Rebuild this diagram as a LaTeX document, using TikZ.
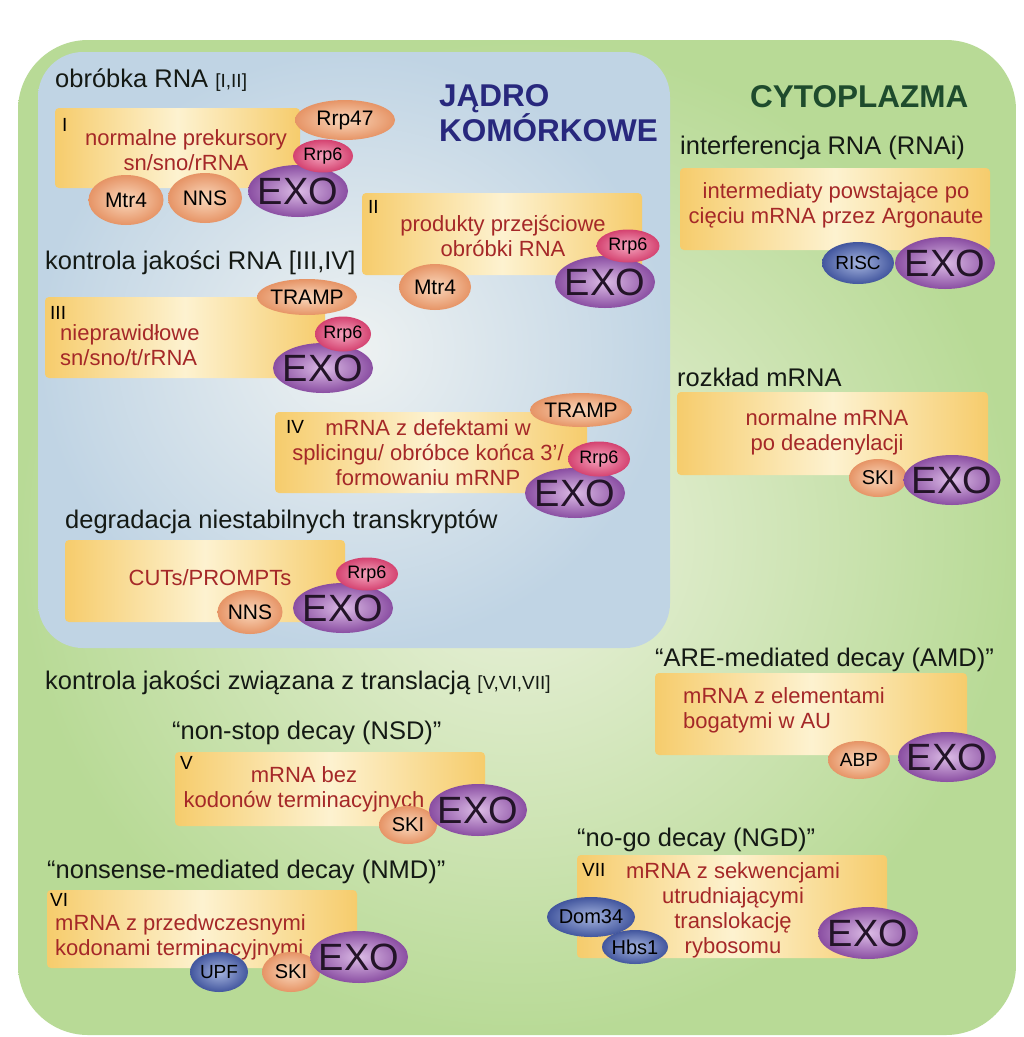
\documentclass[tikz,border=0pt]{standalone}
\usepackage{fontspec}
\setmainfont{Liberation Sans}
\usetikzlibrary{shapes.geometric}
\definecolor{gOut}{RGB}{184,218,150}
\definecolor{gIn}{RGB}{236,242,222}
\definecolor{bOut}{RGB}{192,212,228}
\definecolor{bIn}{RGB}{238,242,242}
\definecolor{yEdge}{RGB}{246,204,108}
\definecolor{yMid}{RGB}{253,242,208}
\definecolor{redT}{RGB}{165,40,40}
\definecolor{navyT}{RGB}{40,40,125}
\definecolor{dgreenT}{RGB}{30,75,45}
\definecolor{headT}{RGB}{20,25,20}
\definecolor{orOut}{RGB}{230,148,102}
\definecolor{orIn}{RGB}{250,216,188}
\definecolor{pkOut}{RGB}{212,66,112}
\definecolor{pkIn}{RGB}{245,165,190}
\definecolor{puOut}{RGB}{138,78,162}
\definecolor{puIn}{RGB}{220,188,230}
\definecolor{blOut}{RGB}{66,86,158}
\definecolor{blIn}{RGB}{165,180,222}
\definecolor{exoT}{RGB}{35,20,40}
\newcommand{\hdfont}{\fontsize{25.5}{29}\selectfont}
\newcommand{\smfont}{\fontsize{19}{21}\selectfont}
\newcommand{\rdfont}{\fontsize{22}{25}\selectfont}
\newcommand{\bgfont}{\fontsize{31.5}{33}\selectfont\bfseries}
\tikzset{
  x=1pt, y=-1pt,
  ybox/.style={rounded corners=4pt, left color=yEdge, right color=yEdge, middle color=yMid, draw=none},
  head/.style={anchor=west, inner sep=0pt, font=\hdfont, text=headT},
  roman/.style={anchor=west, inner sep=0pt, font=\smfont, text=black},
  rtext/.style={inner sep=0pt, font=\rdfont, text=redT, align=center},
  prot/.style={ellipse, inner xsep=-10pt, inner ysep=-6pt, text=black},
  orp/.style={prot, inner color=orIn, outer color=orOut, font=\fontsize{21}{22}\selectfont},
  pkp/.style={prot, inner color=pkIn, outer color=pkOut, font=\fontsize{18}{19}\selectfont},
  pup/.style={prot, inner color=puIn, outer color=puOut, text=exoT, font=\fontsize{38}{40}\selectfont},
  blp/.style={prot, inner color=blIn, outer color=blOut, font=\fontsize{19}{20}\selectfont},
}
\newcommand{\ybx}[5]{\node[ybox, minimum width=#4-#2, minimum height=#5-#3] (#1) at ({(#2+#4)/2},{(#3+#5)/2}) {};}
\begin{document}
\begin{tikzpicture}
\useasboundingbox (0,0) rectangle (1024,1037);
\fill[white] (0,0) rectangle (1024,1037);
% compartments
\shade[rounded corners=70pt, inner color=gIn, outer color=gOut] (18,40) rectangle (1016,1035);
\shade[rounded corners=45pt, inner color=bIn, outer color=bOut] (38,52) rectangle (670,648);
% titles
\node[anchor=north west, inner sep=0pt, font=\bgfont, text=navyT, align=left] (jadro) at (439,84) {JĄDRO\\KOMÓRKOWE};
\node[anchor=west, inner sep=0pt, font=\bgfont, text=dgreenT] (cyto) at (750,97) {CYTOPLAZMA};
% headings
\node[head] (h1) at (55,80) {obróbka RNA {\smfont [I,II]}};
\node[head] (h2) at (45,263) {kontrola jakości RNA [III,IV]};
\node[head] (h3) at (65,522) {degradacja niestabilnych transkryptów};
\node[head] (h4) at (680,148) {interferencja RNA (RNAi)};
\node[head] (h5) at (677,377) {rozkład mRNA};
\node[head] (h6) at (655,660) {“ARE-mediated decay (AMD)”};
\node[head] (h7) at (45,683) {kontrola jakości związana z translacją {\smfont [V,VI,VII]}};
\node[head] (h8) at (172,733) {“non-stop decay (NSD)”};
\node[head] (h9) at (577,840) {“no-go decay (NGD)”};
\node[head] (h10) at (47,872) {“nonsense-mediated decay (NMD)”};
% boxes
\ybx{bI}{55}{108}{300}{188}
\ybx{bII}{362}{193}{642}{275}
\ybx{bIII}{45}{297}{325}{378}
\ybx{bIV}{275}{412}{587}{493}
\ybx{bCUT}{65}{540}{345}{622}
\ybx{bRNAi}{680}{168}{990}{250}
\ybx{bRoz}{677}{392}{988}{475}
\ybx{bAMD}{655}{673}{967}{755}
\ybx{bNSD}{175}{752}{485}{826}
\ybx{bNMD}{47}{890}{357}{968}
\ybx{bNGD}{577}{855}{887}{958}
% roman numerals
\node[roman] (rI) at (62,125) {I};
\node[roman] (rII) at (368,207) {II};
\node[roman] (rIII) at (50,313) {III};
\node[roman] (rIV) at (286,427) {IV};
\node[roman] (rV) at (180,763) {V};
\node[roman] (rVI) at (50,900) {VI};
\node[roman] (rVII) at (582,870) {VII};
% red texts
\node[rtext] (tI) at (186,150) {normalne prekursory\\sn/sno/rRNA};
\node[rtext] (tII) at (503,236) {produkty przejściowe\\obróbki RNA};
\node[rtext, anchor=west, align=left] (tIII) at (60,345) {nieprawidłowe\\sn/sno/t/rRNA};
\node[rtext] (tIV) at (428,453) {mRNA z defektami w\\splicingu/ obróbce końca 3’/\\formowaniu mRNP};
\node[rtext] (tCUT) at (210,578) {CUTs/PROMPTs};
\node[rtext] (tRNAi) at (836,205) {intermediaty powstające po\\cięciu mRNA przez Argonaute};
\node[rtext] (tRoz) at (827,432) {normalne mRNA\\po deadenylacji};
\node[rtext, anchor=west, align=left] (tAMD) at (683,710) {mRNA z elementami\\bogatymi w AU};
\node[rtext] (tNSD) at (304,789) {mRNA bez\\kodonów terminacyjnych};
\node[rtext, anchor=west, align=left] (tNMD) at (55,937) {mRNA z przedwczesnymi\\kodonami terminacyjnymi};
\node[rtext] (tNGD) at (733,910) {mRNA z sekwencjami\\utrudniającymi\\translokację\\rybosomu};
% box I proteins
\node[orp, minimum width=100, minimum height=40] (rrp47) at (345,120) {Rrp47};
\node[pup, minimum width=100, minimum height=52] (exoI) at (298,191) {EXO};
\node[pkp, minimum width=60, minimum height=33] (rrp6I) at (323,156) {Rrp6};
\node[orp, minimum width=75, minimum height=50] (mtr4I) at (126,200) {Mtr4};
\node[orp, minimum width=74, minimum height=50] (nnsI) at (205,198) {NNS};
% box II
\node[pup, minimum width=100, minimum height=52] (exoII) at (605,282) {EXO};
\node[pkp, minimum width=63, minimum height=33] (rrp6II) at (628,246) {Rrp6};
\node[orp, minimum width=72, minimum height=46] (mtr4II) at (435,287) {Mtr4};
% box III
\node[orp, minimum width=100, minimum height=36] (trampIII) at (307,297) {TRAMP};
\node[pup, minimum width=100, minimum height=50] (exoIII) at (323,368) {EXO};
\node[pkp, minimum width=56, minimum height=35] (rrp6III) at (343,334) {Rrp6};
% box IV
\node[orp, minimum width=102, minimum height=34] (trampIV) at (581,410) {TRAMP};
\node[pup, minimum width=100, minimum height=50] (exoIV) at (575,493) {EXO};
\node[pkp, minimum width=62, minimum height=35] (rrp6IV) at (599,459) {Rrp6};
% CUTs
\node[pup, minimum width=100, minimum height=50] (exoCUT) at (343,608) {EXO};
\node[pkp, minimum width=62, minimum height=33] (rrp6CUT) at (367,574) {Rrp6};
\node[orp, minimum width=65, minimum height=44] (nnsCUT) at (250,612) {NNS};
% RNAi
\node[blp, minimum width=72, minimum height=42] (risc) at (858,263) {RISC};
\node[pup, minimum width=100, minimum height=52] (exoRNAi) at (945,263) {EXO};
% rozklad
\node[orp, minimum width=58, minimum height=38, font=\fontsize{20}{21}\selectfont] (skiRoz) at (878,478) {SKI};
\node[pup, minimum width=97, minimum height=50] (exoRoz) at (952,480) {EXO};
% AMD
\node[orp, minimum width=62, minimum height=38, font=\fontsize{19}{20}\selectfont] (abp) at (859,760) {ABP};
\node[pup, minimum width=98, minimum height=50] (exoAMD) at (947,757) {EXO};
% NSD
\node[orp, minimum width=58, minimum height=38, font=\fontsize{20}{21}\selectfont] (skiNSD) at (408,825) {SKI};
\node[pup, minimum width=98, minimum height=52] (exoNSD) at (478,810) {EXO};
% NMD
\node[blp, minimum width=58, minimum height=40] (upf) at (219,972) {UPF};
\node[orp, minimum width=58, minimum height=40, font=\fontsize{20}{21}\selectfont] (skiNMD) at (291,972) {SKI};
\node[pup, minimum width=98, minimum height=52] (exoNMD) at (359,957) {EXO};
% NGD
\node[blp, minimum width=88, minimum height=40, font=\fontsize{20}{21}\selectfont] (dom34) at (591,917) {Dom34};
\node[blp, minimum width=66, minimum height=34, font=\fontsize{20}{21}\selectfont] (hbs1) at (635,947) {Hbs1};
\node[pup, minimum width=100, minimum height=52] (exoNGD) at (868,933) {EXO};
\end{tikzpicture}
\end{document}
